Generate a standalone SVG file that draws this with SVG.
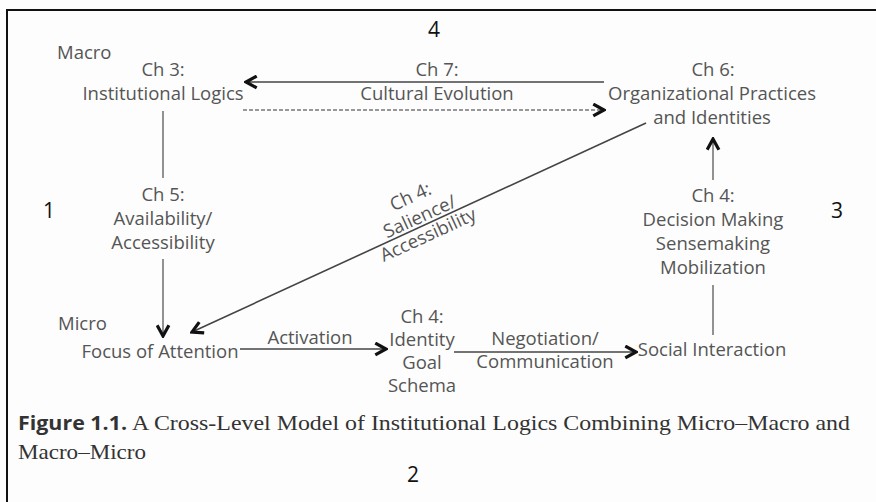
<svg xmlns="http://www.w3.org/2000/svg" width="876" height="502" viewBox="0 0 876 502">
<defs>
<marker id="ah" viewBox="0 0 14 14" refX="12" refY="7" markerWidth="15" markerHeight="15" markerUnits="userSpaceOnUse" orient="auto">
<path d="M2,1.5 L12,7 L2,12.5" fill="none" stroke="#111" stroke-width="3" stroke-linejoin="miter"/>
</marker>
<style>
.lbl{font-family:"Open Sans","Liberation Sans",sans-serif;font-size:18.5px;fill:#555;text-anchor:middle}
.lvl{font-family:"Open Sans","Liberation Sans",sans-serif;font-size:18.5px;fill:#555}
.num{font-family:"Open Sans","Liberation Sans",sans-serif;font-size:21px;fill:#111}
.ln{stroke:#777;stroke-width:1.6;fill:none}
.dk{stroke:#444;stroke-width:1.6;fill:none}
.cap{font-family:"Liberation Serif",serif;font-size:21px;fill:#333}
.capb{font-family:"Open Sans","Liberation Sans",sans-serif;font-size:20px;font-weight:bold;fill:#333}
</style>
</defs>
<rect width="876" height="502" fill="#fdfdfd"/>
<path d="M7,502 V10 H876" fill="none" stroke="#111" stroke-width="2"/>

<g id="connectors">
<line class="dk" x1="604" y1="82" x2="246" y2="82" marker-end="url(#ah)"/>
<line class="ln" x1="243" y1="110" x2="604" y2="110" stroke-dasharray="4,2" marker-end="url(#ah)"/>
<line class="ln" x1="163" y1="111" x2="163" y2="178"/>
<line class="ln" x1="163" y1="259" x2="163" y2="336" marker-end="url(#ah)"/>
<line class="dk" x1="646" y1="123" x2="192" y2="332" marker-end="url(#ah)"/>
<line class="dk" x1="240" y1="349" x2="386" y2="349" marker-end="url(#ah)"/>
<line class="dk" x1="454" y1="352" x2="636" y2="352" marker-end="url(#ah)"/>
<line class="ln" x1="713" y1="335" x2="713" y2="285"/>
<line class="ln" x1="713" y1="180" x2="713" y2="139" marker-end="url(#ah)"/>
</g>

<g id="levels">
<text class="lvl" x="57" y="59">Macro</text>
<text class="lvl" x="58" y="330">Micro</text>
</g>

<g id="ch3">
<text class="lbl" x="163" y="76">Ch 3:</text>
<text class="lbl" x="163" y="100">Institutional Logics</text>
</g>

<g id="ch7">
<text class="lbl" x="437" y="76">Ch 7:</text>
<text class="lbl" x="437" y="100">Cultural Evolution</text>
</g>

<g id="ch6">
<text class="lbl" x="713" y="76">Ch 6:</text>
<text class="lbl" x="712" y="100">Organizational Practices</text>
<text class="lbl" x="712" y="124">and Identities</text>
</g>

<g id="ch5">
<text class="lbl" x="163" y="201">Ch 5:</text>
<text class="lbl" x="163" y="225">Availability/</text>
<text class="lbl" x="163" y="249">Accessibility</text>
</g>

<g id="ch4-salience" transform="translate(424,226) rotate(-24.7)">
<text class="lbl" x="0" y="-26">Ch 4:</text>
<text class="lbl" x="0" y="-4">Salience/</text>
<text class="lbl" x="0" y="16">Accessibility</text>
</g>

<g id="ch4-decision">
<text class="lbl" x="713" y="202">Ch 4:</text>
<text class="lbl" x="713" y="226">Decision Making</text>
<text class="lbl" x="713" y="250">Sensemaking</text>
<text class="lbl" x="713" y="274">Mobilization</text>
</g>

<g id="focus">
<text class="lbl" x="160" y="358">Focus of Attention</text>
</g>

<g id="activation">
<text class="lbl" x="310" y="344">Activation</text>
</g>

<g id="ch4-identity">
<text class="lbl" x="422" y="323">Ch 4:</text>
<text class="lbl" x="422" y="346">Identity</text>
<text class="lbl" x="422" y="369">Goal</text>
<text class="lbl" x="422" y="392">Schema</text>
</g>

<g id="negotiation">
<text class="lbl" x="545" y="345">Negotiation/</text>
<text class="lbl" x="545" y="368">Communication</text>
</g>

<g id="social">
<text class="lbl" x="712" y="356">Social Interaction</text>
</g>

<g id="caption">
<text x="18" y="430"><tspan class="capb" textLength="109" lengthAdjust="spacingAndGlyphs">Figure 1.1.</tspan><tspan class="cap" x="132" textLength="718" lengthAdjust="spacingAndGlyphs">A Cross-Level Model of Institutional Logics Combining Micro–Macro and</tspan></text>
<text class="cap" x="18" y="459" textLength="128" lengthAdjust="spacingAndGlyphs">Macro–Micro</text>
</g>

<g id="numbers">
<text class="num" x="428" y="37">4</text>
<text class="num" x="43" y="218">1</text>
<text class="num" x="831" y="218">3</text>
<text class="num" x="407" y="482">2</text>
</g>
</svg>
